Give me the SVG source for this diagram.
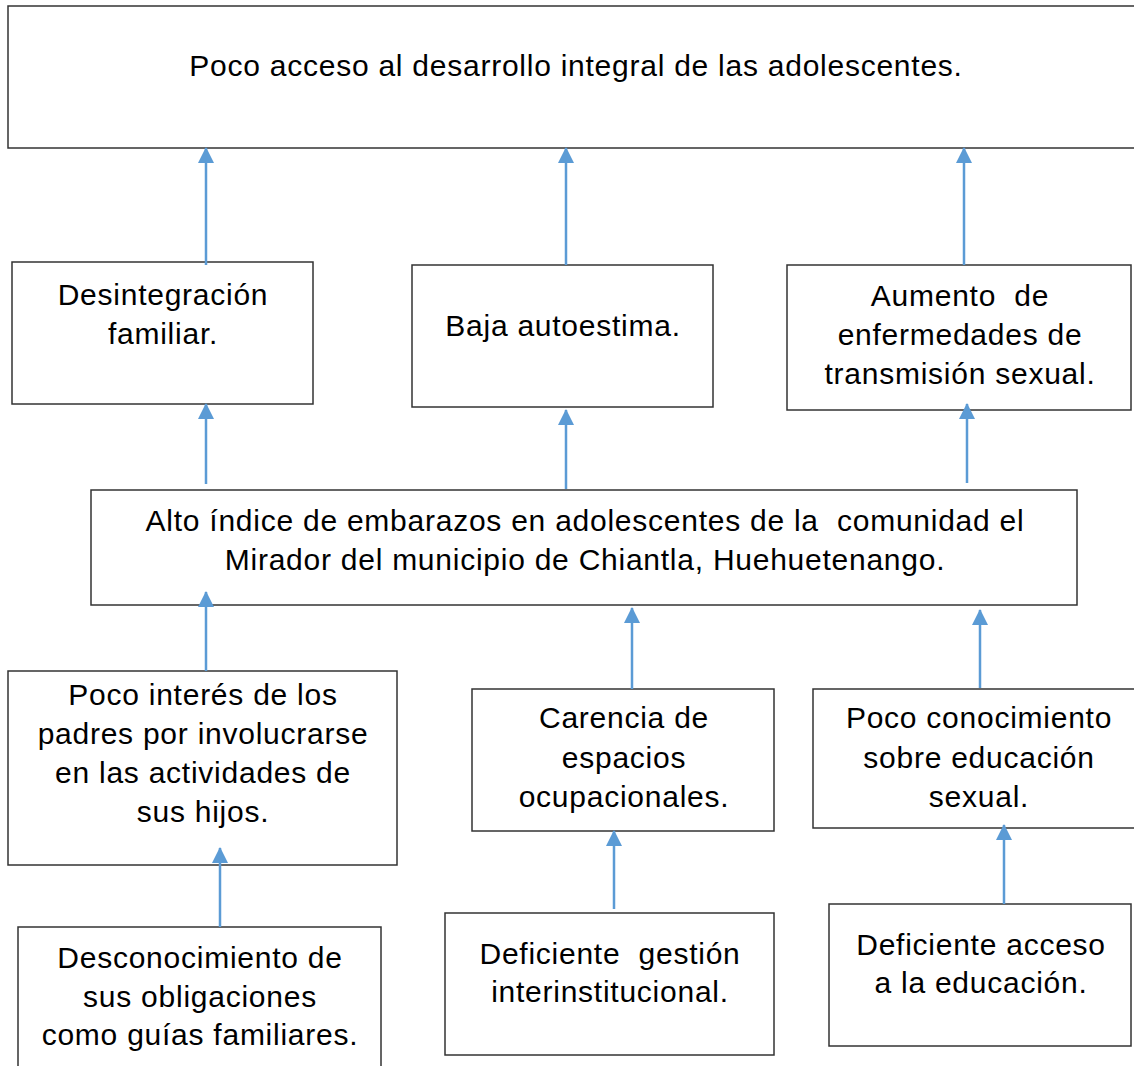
<svg xmlns="http://www.w3.org/2000/svg" width="1134" height="1066" viewBox="0 0 1134 1066">
<style>
.box{fill:#fff;stroke:#333;stroke-width:1.5}
.t{font-family:"Liberation Sans",Arial,sans-serif;font-size:30px;letter-spacing:0.75px;fill:#000;text-anchor:middle;white-space:pre}
.c{stroke:#5B9BD5;stroke-width:2.5;fill:none;marker-end:url(#ah)}
</style>
<defs>
<marker id="ah" markerUnits="userSpaceOnUse" markerWidth="16" markerHeight="16" viewBox="0 0 16 16" refX="15" refY="8" orient="auto">
<path d="M0,0 L16,8 L0,16 Z" fill="#5B9BD5"/>
</marker>
</defs>
<rect width="1134" height="1066" fill="#fff"/>
<g id="n_top"><rect class="box" x="8" y="6" width="1140" height="142"/><text class="t" x="576" y="76">Poco acceso al desarrollo integral de las adolescentes.</text></g>
<g id="n_desint"><rect class="box" x="12" y="262" width="301" height="142"/><text class="t" x="163" y="305">Desintegración</text><text class="t" x="163" y="344">familiar.</text></g>
<g id="n_baja"><rect class="box" x="412" y="265" width="301" height="142"/><text class="t" x="563" y="336">Baja autoestima.</text></g>
<g id="n_aumento"><rect class="box" x="787" y="265" width="344" height="145"/><text class="t" x="960" y="306" xml:space="preserve">Aumento  de</text><text class="t" x="960" y="345">enfermedades de</text><text class="t" x="960" y="384">transmisión sexual.</text></g>
<g id="n_central"><rect class="box" x="91" y="490" width="986" height="115"/><text class="t" x="585" y="531" xml:space="preserve">Alto índice de embarazos en adolescentes de la  comunidad el</text><text class="t" x="585" y="570">Mirador del municipio de Chiantla, Huehuetenango.</text></g>
<g id="n_interes"><rect class="box" x="8" y="671" width="389" height="194"/><text class="t" x="203" y="705">Poco interés de los</text><text class="t" x="203" y="744">padres por involucrarse</text><text class="t" x="203" y="783">en las actividades de</text><text class="t" x="203" y="822">sus hijos.</text></g>
<g id="n_carencia"><rect class="box" x="472" y="689" width="302" height="142"/><text class="t" x="624" y="728">Carencia de</text><text class="t" x="624" y="768">espacios</text><text class="t" x="624" y="807">ocupacionales.</text></g>
<g id="n_conoc"><rect class="box" x="813" y="689" width="330" height="139"/><text class="t" x="979" y="728">Poco conocimiento</text><text class="t" x="979" y="768">sobre educación</text><text class="t" x="979" y="807">sexual.</text></g>
<g id="n_descon"><rect class="box" x="18" y="927" width="363" height="150"/><text class="t" x="200" y="968">Desconocimiento de</text><text class="t" x="200" y="1007">sus obligaciones</text><text class="t" x="200" y="1045">como guías familiares.</text></g>
<g id="n_gestion"><rect class="box" x="445" y="913" width="329" height="142"/><text class="t" x="610" y="964" xml:space="preserve">Deficiente  gestión</text><text class="t" x="610" y="1002">interinstitucional.</text></g>
<g id="n_acceso"><rect class="box" x="829" y="904" width="302" height="142"/><text class="t" x="981" y="955">Deficiente acceso</text><text class="t" x="981" y="993">a la educación.</text></g>
<g id="connectors">
<line class="c" x1="206" y1="265" x2="206" y2="148"/>
<line class="c" x1="566" y1="265" x2="566" y2="148"/>
<line class="c" x1="964" y1="265" x2="964" y2="148"/>
<line class="c" x1="206" y1="484" x2="206" y2="404"/>
<line class="c" x1="566" y1="489" x2="566" y2="410"/>
<line class="c" x1="967" y1="483" x2="967" y2="404"/>
<line class="c" x1="206" y1="671" x2="206" y2="592"/>
<line class="c" x1="632" y1="689" x2="632" y2="608"/>
<line class="c" x1="980" y1="688" x2="980" y2="610"/>
<line class="c" x1="220" y1="927" x2="220" y2="848"/>
<line class="c" x1="614" y1="909" x2="614" y2="831"/>
<line class="c" x1="1004" y1="904" x2="1004" y2="825"/>
</g>
</svg>
